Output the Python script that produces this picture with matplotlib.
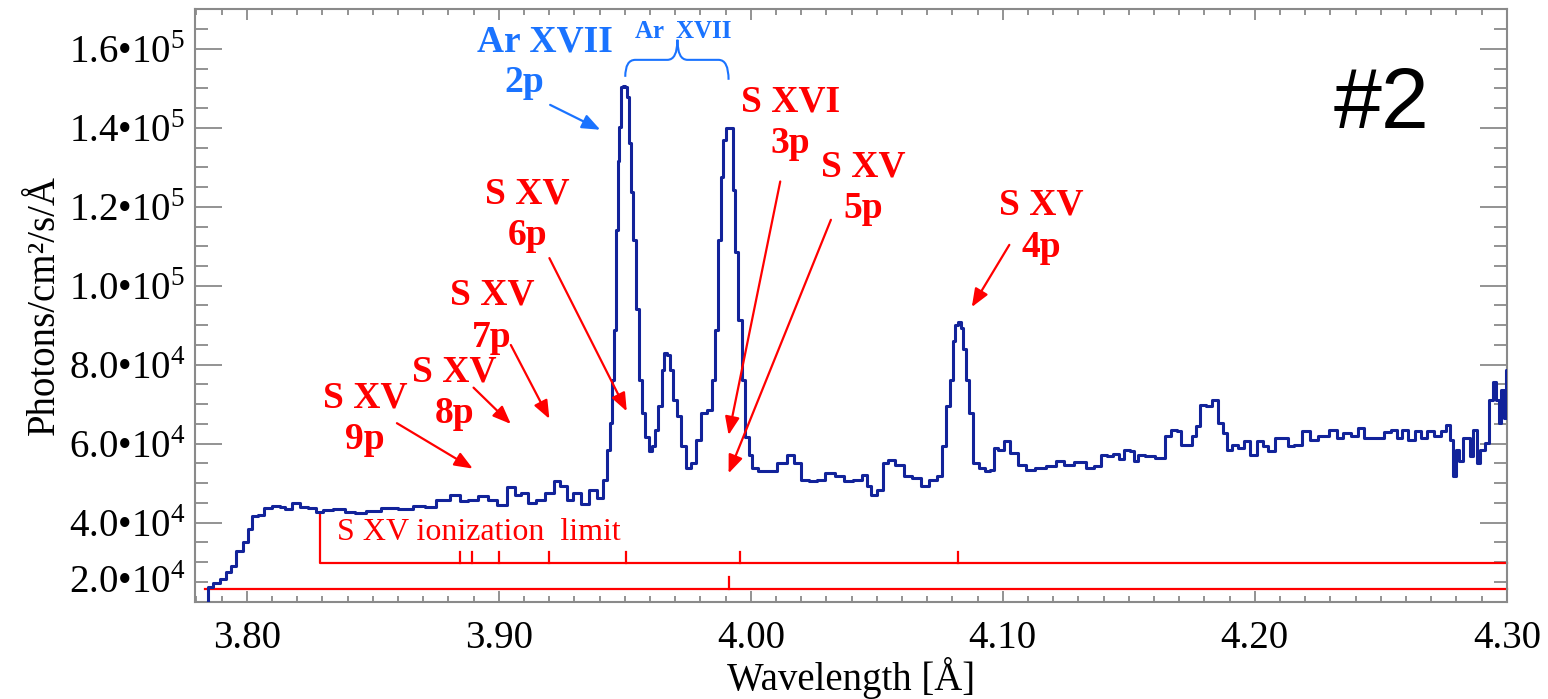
import matplotlib.pyplot as plt
from matplotlib.ticker import MultipleLocator, FixedLocator
from matplotlib.path import Path
from matplotlib.patches import PathPatch

plt.rcParams['font.family'] = ['Liberation Serif', 'DejaVu Serif']
plt.rcParams['mathtext.fontset'] = 'custom'
plt.rcParams['mathtext.rm'] = 'Liberation Serif'

# spectrum (Angstrom, photons/cm2/s/A)
wavelength = [
    3.7793, 3.7840, 3.7853, 3.7880, 3.7905, 3.7932, 3.7944, 3.7972, 3.7999, 3.8012,
    3.8032, 3.8058, 3.8083, 3.8118, 3.8143, 3.8163, 3.8197, 3.8222, 3.8262, 3.8290,
    3.8317, 3.8369, 3.8409, 3.8449, 3.8500, 3.8568, 3.8634, 3.8687, 3.8727, 3.8778,
    3.8833, 3.8858, 3.8898, 3.8937, 3.8977, 3.9012, 3.9051, 3.9076, 3.9104, 3.9131,
    3.9164, 3.9203, 3.9235, 3.9255, 3.9283, 3.9309, 3.9342, 3.9374, 3.9402, 3.9422,
    3.9434, 3.9448, 3.9454, 3.9462, 3.9469, 3.9476, 3.9482, 3.9489, 3.9498, 3.9506,
    3.9510, 3.9521, 3.9528, 3.9541, 3.9551, 3.9561, 3.9573, 3.9588, 3.9601, 3.9612,
    3.9627, 3.9640, 3.9652, 3.9660, 3.9672, 3.9684, 3.9700, 3.9712, 3.9732, 3.9751,
    3.9771, 3.9791, 3.9811, 3.9839, 3.9851, 3.9863, 3.9879, 3.9885, 3.9898, 3.9906,
    3.9925, 3.9932, 3.9944, 3.9958, 3.9971, 3.9985, 3.9998, 4.0010, 4.0049, 4.0089,
    4.0123, 4.0163, 4.0183, 4.0216, 4.0248, 4.0276, 4.0315, 4.0355, 4.0387, 4.0427,
    4.0454, 4.0466, 4.0486, 4.0514, 4.0534, 4.0554, 4.0593, 4.0620, 4.0660, 4.0693,
    4.0724, 4.0752, 4.0764, 4.0784, 4.0796, 4.0808, 4.0816, 4.0828, 4.0840, 4.0848,
    4.0862, 4.0871, 4.0891, 4.0918, 4.0938, 4.0957, 4.0971, 4.0990, 4.1017, 4.1042,
    4.1077, 4.1110, 4.1149, 4.1193, 4.1229, 4.1257, 4.1312, 4.1348, 4.1376, 4.1404,
    4.1423, 4.1451, 4.1471, 4.1493, 4.1515, 4.1527, 4.1549, 4.1577, 4.1632, 4.1654,
    4.1682, 4.1701, 4.1717, 4.1745, 4.1757, 4.1773, 4.1793, 4.1820, 4.1840, 4.1864,
    4.1884, 4.1896, 4.1920, 4.1947, 4.1967, 4.1995, 4.2023, 4.2043, 4.2065, 4.2093,
    4.2121, 4.2142, 4.2170, 4.2204, 4.2232, 4.2273, 4.2317, 4.2337, 4.2364, 4.2400,
    4.2420, 4.2448, 4.2498, 4.2525, 4.2553, 4.2575, 4.2595, 4.2623, 4.2651, 4.2670,
    4.2698, 4.2728, 4.2750, 4.2770, 4.2780, 4.2790, 4.2806, 4.2817, 4.2833, 4.2845,
    4.2861, 4.2873, 4.2889, 4.2900, 4.2924, 4.2936, 4.2952, 4.2964, 4.2972, 4.2980,
    4.2996, 4.3000,
]
flux = [
    19500, 19500, 23650, 24660, 25670, 27440, 28950, 32740, 35010, 38290,
    41580, 41830, 43850, 44350, 44100, 43350, 45110, 44100, 43600, 42590,
    43170, 43350, 42670, 42340, 42920, 43850, 43350, 44350, 44100, 45870,
    47130, 45440, 45870, 46700, 45870, 44610, 49150, 47130, 47640, 45110,
    45870, 47640, 50490, 49230, 45690, 47640, 44860, 48400, 46380, 50920,
    58490, 65310, 76170, 88800, 114050, 131700, 140300, 150400, 150600, 150400,
    147900, 136100, 123800, 111600, 94080, 76170, 67840, 61780, 58070, 59330,
    63550, 69430, 78700, 82990, 82480, 78700, 71120, 66900, 59330, 53950,
    55210, 61020, 67840, 68590, 76170, 88800, 111520, 127500, 136900, 140000,
    140000, 124300, 108600, 91400, 76170, 61780, 57230, 53950, 53020, 53020,
    55210, 57230, 55210, 50920, 50490, 50920, 52690, 51760, 50490, 50920,
    52180, 49230, 47130, 48400, 55210, 55970, 54710, 51760, 51430, 49230,
    50920, 51760, 59330, 69430, 76170, 86000, 90000, 90800, 89300, 84000,
    76170, 67840, 55210, 53950, 53020, 53450, 58990, 58490, 60590, 57740,
    54710, 53270, 53950, 54270, 55540, 54710, 55290, 53950, 54270, 57230,
    56800, 57480, 56220, 58490, 58070, 55540, 57230, 56800, 56480, 61860,
    63550, 63120, 59760, 59760, 61860, 64390, 69860, 69430, 71120, 65310,
    62790, 58490, 59760, 58990, 60590, 57230, 60590, 59330, 58070, 61520,
    61520, 59330, 59760, 63120, 61020, 61860, 63550, 61520, 62790, 61860,
    64050, 61520, 61520, 62860, 63550, 61520, 63550, 61020, 63120, 61520,
    63120, 61860, 63120, 64810, 61020, 51760, 58490, 55540, 61520, 61520,
    56800, 63550, 55210, 58490, 60270, 71120, 75740, 71120, 65310, 73650,
    66510, 78700,
]

# line positions (Angstrom)
sxv_limit = 3.8292
sxv_lines = [3.8847, 3.8895, 3.9002, 3.9200, 3.9506, 3.9958, 4.0823]
sxvi_3p = 3.9912
ar_pair = [3.9502, 3.9912]

# labels: text, x, baseline of second line, arrow tail, arrow head
red_labels = [
    ("S XVI\n3p", 4.0156, 133570, (4.0117, 126400), (3.9912, 62200)),
    ("S XV\n5p", 4.0446, 117120, (4.0318, 116700), (3.9912, 52500)),
    ("S XV\n6p", 3.9113, 110370, (3.9201, 107000), (3.9508, 68200)),
    ("S XV\n7p", 3.8974, 84570, (3.9048, 85000), (3.9201, 66300)),
    ("S XV\n8p", 3.8823, 65270, (3.8900, 74200), (3.9048, 65000)),
    ("S XV\n9p", 3.8470, 58570, (3.8596, 65200), (3.8897, 53700)),
    ("S XV\n4p", 4.1152, 107370, (4.1026, 110350), (4.0877, 94600)),
]

yticks = [20000, 40000, 60000, 80000, 100000, 120000, 140000, 160000]
xticks = [3.80, 3.90, 4.00, 4.10, 4.20, 4.30]

RED = '#ff0000'
BLUE = '#1a73ff'
GRAY = '#8a8a8a'

fig = plt.figure(figsize=(15.48, 6.99), dpi=100)
ax = fig.add_axes([0.126, 0.1392, 0.8474, 0.8475])

ax.plot(wavelength, flux, drawstyle='steps-mid', color='#12239a', lw=2.2, zorder=3)

# S XV series bracket
y_b = 29700
ax.plot([sxv_limit, sxv_limit, 4.30], [42550, y_b, y_b], color=RED, lw=1.6, clip_on=False)
for wl in sxv_lines:
    ax.plot([wl, wl], [y_b, 32700], color=RED, lw=1.6)
ax.plot([3.7835, 4.30], [23150, 23150], color=RED, lw=1.6, clip_on=False)
ax.plot([sxvi_3p, sxvi_3p], [23150, 26350], color=RED, lw=1.6)
ax.text(3.8358, 35630, "S XV ionization  limit", color=RED, fontsize=23,
        ha='left', va='baseline')

for txt, x, y, tail, head in red_labels:
    ax.text(x, y, txt, color=RED, fontsize=27, fontweight='bold',
            ha='center', va='baseline', linespacing=1.25)
    ax.annotate("", xy=head, xytext=tail,
                arrowprops=dict(arrowstyle='-|>,head_length=0.55,head_width=0.22',
                                color=RED, lw=1.6, shrinkA=0, shrinkB=0,
                                mutation_scale=20))

# Ar XVII labels
ax.text(3.9182, 159300, "Ar XVII", color=BLUE, fontsize=27, fontweight='bold',
        ha='center', va='baseline')
ax.text(3.9101, 149100, "2p", color=BLUE, fontsize=27, fontweight='bold',
        ha='center', va='baseline')
ax.annotate("", xy=(3.9403, 139500), xytext=(3.9204, 145800),
            arrowprops=dict(arrowstyle='-|>,head_length=0.55,head_width=0.22',
                            color=BLUE, lw=1.6, shrinkA=0, shrinkB=0,
                            mutation_scale=20))
ax.text(3.9734, 162700, "Ar  XVII", color=BLUE, fontsize=18, fontweight='bold',
        ha='center', va='baseline')

# curly brace over the two strong lines
x0, x1 = ar_pair
xm = 3.9709
dx = 0.004
yb0, yb1, yh, yt = 152900, 152150, 157200, 162300
verts = [(x0, yb0), (x0, yh), (x0 + dx, yh),
         (xm - dx, yh), (xm, yh), (xm, yt),
         (xm, yh), (xm + dx, yh),
         (x1 - dx, yh), (x1, yh), (x1, yb1)]
codes = [Path.MOVETO, Path.CURVE3, Path.CURVE3,
         Path.LINETO, Path.CURVE3, Path.CURVE3,
         Path.CURVE3, Path.CURVE3,
         Path.LINETO, Path.CURVE3, Path.CURVE3]
ax.add_patch(PathPatch(Path(verts, codes), fill=False, edgecolor=BLUE, lw=1.5,
                       clip_on=False))

ax.text(4.2501, 140000, "#2", fontsize=62, family='Liberation Sans',
        ha='center', va='baseline', color='black')

ax.set_xlim(3.7795, 4.30)
ax.set_ylim(20000, 170000)

ax.xaxis.set_major_locator(FixedLocator(xticks))
ax.xaxis.set_minor_locator(MultipleLocator(0.01))
ax.yaxis.set_major_locator(FixedLocator(yticks))
ax.yaxis.set_minor_locator(MultipleLocator(5000))
ax.set_xticklabels([f"{v:.2f}" for v in xticks])
ylabels = []
for v in yticks:
    e = 5 if v >= 100000 else 4
    ylabels.append(f"{v / 10**e:.1f}•10$^{e}$")
ax.set_yticklabels(ylabels)

ax.tick_params(which='both', direction='in', top=True, right=True, color=GRAY,
               width=1.3, labelsize=28, labelcolor='black')
ax.tick_params(axis='x', which='major', length=8, pad=13)
ax.tick_params(axis='x', which='minor', length=4)
ax.tick_params(axis='y', which='major', length=19.5, pad=7)
ax.tick_params(axis='y', which='minor', length=9.7)
ax.get_yticklabels()[0].set_verticalalignment('bottom')
for s in ax.spines.values():
    s.set_color(GRAY)
    s.set_linewidth(1.5)

ax.set_xlabel("Wavelength [Å]", fontsize=28, labelpad=0)
ax.set_ylabel("Photons/cm²/s/Å", fontsize=28, labelpad=4)

fig.savefig("out.png", dpi=100)
